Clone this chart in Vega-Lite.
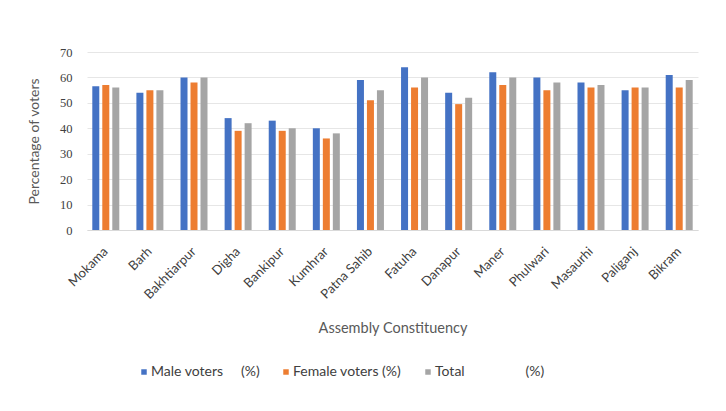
{
  "$schema": "https://vega.github.io/schema/vega-lite/v6.json",
  "description": "Male, female and total voter turnout (%) by assembly constituency, grouped bars.",
  "width": 611,
  "height": 178,
  "autosize": {"type": "none"},
  "padding": {"left": 87, "top": 52, "right": 28, "bottom": 181},
  "background": "#ffffff",
  "data": {
    "values": [
      {"constituency": "Mokama", "series": "Male voters (%)", "value": 56.5},
      {"constituency": "Mokama", "series": "Female voters (%)", "value": 57},
      {"constituency": "Mokama", "series": "Total (%)", "value": 56},
      {"constituency": "Barh", "series": "Male voters (%)", "value": 54},
      {"constituency": "Barh", "series": "Female voters (%)", "value": 55},
      {"constituency": "Barh", "series": "Total (%)", "value": 55},
      {"constituency": "Bakhtiarpur", "series": "Male voters (%)", "value": 60},
      {"constituency": "Bakhtiarpur", "series": "Female voters (%)", "value": 58},
      {"constituency": "Bakhtiarpur", "series": "Total (%)", "value": 60},
      {"constituency": "Digha", "series": "Male voters (%)", "value": 44},
      {"constituency": "Digha", "series": "Female voters (%)", "value": 39},
      {"constituency": "Digha", "series": "Total (%)", "value": 42},
      {"constituency": "Bankipur", "series": "Male voters (%)", "value": 43},
      {"constituency": "Bankipur", "series": "Female voters (%)", "value": 39},
      {"constituency": "Bankipur", "series": "Total (%)", "value": 40},
      {"constituency": "Kumhrar", "series": "Male voters (%)", "value": 40},
      {"constituency": "Kumhrar", "series": "Female voters (%)", "value": 36},
      {"constituency": "Kumhrar", "series": "Total (%)", "value": 38},
      {"constituency": "Patna Sahib", "series": "Male voters (%)", "value": 59},
      {"constituency": "Patna Sahib", "series": "Female voters (%)", "value": 51},
      {"constituency": "Patna Sahib", "series": "Total (%)", "value": 55},
      {"constituency": "Fatuha", "series": "Male voters (%)", "value": 64},
      {"constituency": "Fatuha", "series": "Female voters (%)", "value": 56},
      {"constituency": "Fatuha", "series": "Total (%)", "value": 60},
      {"constituency": "Danapur", "series": "Male voters (%)", "value": 54},
      {"constituency": "Danapur", "series": "Female voters (%)", "value": 49.5},
      {"constituency": "Danapur", "series": "Total (%)", "value": 52},
      {"constituency": "Maner", "series": "Male voters (%)", "value": 62},
      {"constituency": "Maner", "series": "Female voters (%)", "value": 57},
      {"constituency": "Maner", "series": "Total (%)", "value": 60},
      {"constituency": "Phulwari", "series": "Male voters (%)", "value": 60},
      {"constituency": "Phulwari", "series": "Female voters (%)", "value": 55},
      {"constituency": "Phulwari", "series": "Total (%)", "value": 58},
      {"constituency": "Masaurhi", "series": "Male voters (%)", "value": 58},
      {"constituency": "Masaurhi", "series": "Female voters (%)", "value": 56},
      {"constituency": "Masaurhi", "series": "Total (%)", "value": 57},
      {"constituency": "Paliganj", "series": "Male voters (%)", "value": 55},
      {"constituency": "Paliganj", "series": "Female voters (%)", "value": 56},
      {"constituency": "Paliganj", "series": "Total (%)", "value": 56},
      {"constituency": "Bikram", "series": "Male voters (%)", "value": 61},
      {"constituency": "Bikram", "series": "Female voters (%)", "value": 56},
      {"constituency": "Bikram", "series": "Total (%)", "value": 59}
    ]
  },
  "mark": {"type": "bar"},
  "encoding": {
    "x": {
      "field": "constituency",
      "type": "nominal",
      "sort": null,
      "title": "Assembly Constituency",
      "scale": {"paddingInner": 0.388, "paddingOuter": 0.12},
      "axis": {
        "labelAngle": -45,
        "labelAlign": "right",
        "labelBaseline": "middle",
        "labelPadding": 19,
        "labelFont": "Lato",
        "labelFontSize": 13,
        "labelColor": "#404040",
        "ticks": false,
        "domainColor": "#d9d9d9",
        "titleFont": "Lato",
        "titleFontSize": 14.5,
        "titleFontWeight": "normal",
        "titleColor": "#595959",
        "titlePadding": 20
      }
    },
    "xOffset": {
      "field": "series",
      "sort": ["Male voters (%)", "Female voters (%)", "Total (%)"],
      "scale": {"paddingInner": 0.3, "paddingOuter": 0}
    },
    "y": {
      "field": "value",
      "type": "quantitative",
      "title": "Percentage of voters",
      "scale": {"domain": [0, 70], "nice": false},
      "axis": {
        "values": [0, 10, 20, 30, 40, 50, 60, 70],
        "domain": false,
        "ticks": false,
        "gridColor": "#e6e6e6",
        "labelFont": "Liberation Serif",
        "labelFontSize": 12.5,
        "labelColor": "#404040",
        "labelPadding": 15,
        "titleFont": "Lato",
        "titleFontSize": 14,
        "titleFontWeight": "normal",
        "titleColor": "#595959",
        "titlePadding": 18
      }
    },
    "color": {
      "field": "series",
      "type": "nominal",
      "sort": ["Male voters (%)", "Female voters (%)", "Total (%)"],
      "scale": {
        "domain": ["Male voters (%)", "Female voters (%)", "Total (%)"],
        "range": ["#4472c4", "#ed7d31", "#a5a5a5"]
      },
      "legend": {
        "title": null,
        "orient": "none",
        "legendX": 50,
        "legendY": 313,
        "direction": "horizontal",
        "symbolType": "square",
        "symbolSize": 30,
        "symbolStrokeWidth": 0,
        "labelOffset": 0,
        "columnPadding": 19,
        "labelFont": "Lato",
        "labelFontSize": 14,
        "labelColor": "#404040",
        "labelLimit": 0,
        "labelExpr": "datum.label == 'Male voters (%)' ? 'Male voters\u00a0\u00a0\u00a0\u00a0\u00a0(%)' : datum.label == 'Total (%)' ? 'Total\u00a0\u00a0\u00a0\u00a0\u00a0\u00a0\u00a0\u00a0\u00a0\u00a0\u00a0\u00a0\u00a0\u00a0\u00a0\u00a0\u00a0(%)' : datum.label"
      }
    }
  },
  "config": {
    "view": {"stroke": null}
  }
}
